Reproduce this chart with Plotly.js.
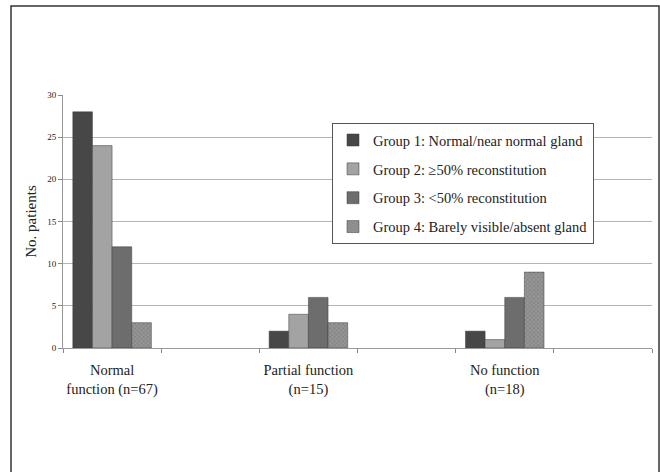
<!DOCTYPE html>
<html><head><meta charset="utf-8">
<script src="https://cdn.plot.ly/plotly-3.0.1.min.js"></script>
<style>html,body{margin:0;padding:0;background:#fff;}#chart{width:660px;height:472px;}</style>
</head><body><div id="chart"></div>
<script>
var categories = ["Normal<br>function (n=67)", " ", "Partial function<br>(n=15)", "  ", "No function<br>(n=18)", "   "];
var seriesNames = ["Group 1: Normal/near normal gland", "Group 2: \u226550% reconstitution", "Group 3: <50% reconstitution", "Group 4: Barely visible/absent gland"];
var group1 = [28, null, 2, null, 2, null];
var group2 = [24, null, 4, null, 1, null];
var group3 = [12, null, 6, null, 6, null];
var group4 = [3, null, 3, null, 9, null];
var yTicks = [0, 5, 10, 15, 20, 25, 30];

var colors = ["#474747", "#a3a3a3", "#6d6d6d", "#8e8e8e"];
var values = [group1, group2, group3, group4];
var font = "Liberation Serif";

var traces = values.map(function(v, i){
  var t = {
    type: "bar", x: categories, y: v, name: seriesNames[i],
    legendgroup: "g" + i,
    marker: {color: colors[i], line: {color: "#3a3a3a", width: 0.5}}
  };
  if (i === 3) {
    t.marker.pattern = {shape: "x", size: 3, solidity: 0.3, fgcolor: "#767676", bgcolor: "#969696"};
  }
  return t;
});

var layout = {
  width: 660, height: 472,
  margin: {l: 63, r: 8, t: 95, b: 124},
  paper_bgcolor: "#fff", plot_bgcolor: "#fff",
  barmode: "group", bargap: 0.2, bargroupgap: 0,
  font: {family: font, color: "#222"},
  showlegend: true,
  legend: {x: (332-63)/589, y: 0.889, xanchor: "left", yanchor: "top",
    bordercolor: "#555", borderwidth: 1, bgcolor: "#fff",
    font: {family: font, size: 14.5, color: "#222"}, tracegroupgap: 7,
    traceorder: "grouped", itemwidth: 30},
  xaxis: {
    type: "category", tickson: "boundaries", ticks: "outside", ticklen: 4,
    tickcolor: "#888", showline: true, linecolor: "#999", linewidth: 1,
    showgrid: false, tickfont: {family: font, size: 14.5, color: "#222"},
    tickangle: 0, ticklabelstandoff: 9, fixedrange: true
  },
  yaxis: {
    range: [0, 30], tickvals: yTicks, ticks: "outside", ticklen: 4, tickcolor: "#888",
    showline: true, linecolor: "#999", linewidth: 1,
    showgrid: true, gridcolor: "#b5b5b5", gridwidth: 1, zeroline: false,
    tickfont: {family: font, size: 9, color: "#222"},
    title: {text: "No. patients", font: {family: font, size: 15, color: "#222"}, standoff: 6}
  },
  shapes: [{type: "rect", xref: "paper", yref: "paper",
    x0: (11-63)/589, x1: (659-63)/589, y0: -0.6, y1: (348-6)/253,
    line: {color: "#333", width: 1.5}, fillcolor: "rgba(0,0,0,0)", layer: "below"}]
};

Plotly.newPlot("chart", traces, layout, {displayModeBar: false, staticPlot: true});
</script></body></html>
